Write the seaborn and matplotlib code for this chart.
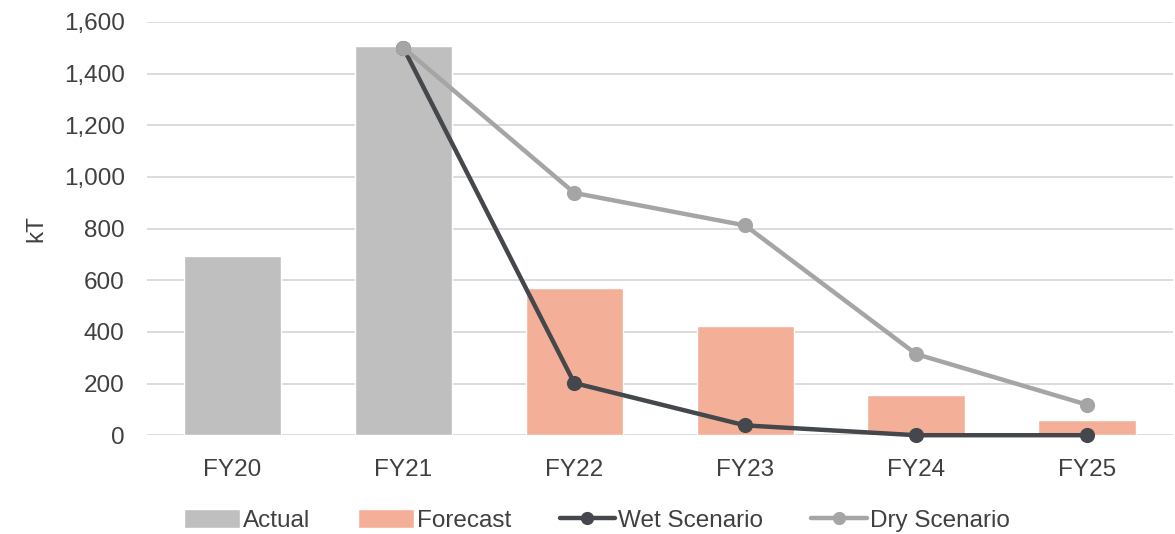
import matplotlib
matplotlib.use("Agg")
import matplotlib.pyplot as plt
import numpy as np
import pandas as pd
import seaborn as sns
from matplotlib.lines import Line2D
from matplotlib.patches import Patch

years = ["FY20", "FY21", "FY22", "FY23", "FY24", "FY25"]
bar_type = ["Actual", "Actual", "Forecast", "Forecast", "Forecast", "Forecast"]
bar_values = [692, 1505, 570, 423, 155, 58]
wet_values = [np.nan, 1500, 202, 38, 0, 0]
dry_values = [np.nan, 1500, 938, 812, 314, 118]

colors = {
    "Actual": "#BFBFBF",
    "Forecast": "#F4AF98",
    "Wet Scenario": "#44474B",
    "Dry Scenario": "#A5A5A5",
}
text_color = "#404040"

sns.set_theme(style="white")
plt.rcParams["font.family"] = ["Liberation Sans", "DejaVu Sans"]

df_bars = pd.DataFrame({"year": years, "type": bar_type, "value": bar_values})
df_wet = pd.DataFrame({"year": years, "value": wet_values})
df_dry = pd.DataFrame({"year": years, "value": dry_values})

fig = plt.figure(figsize=(11.75, 5.34), dpi=100)
ax = fig.add_axes([0.125, 0.185, 0.873, 0.774])

sns.barplot(
    data=df_bars, x="year", y="value", hue="type", order=years,
    palette=colors, dodge=False, width=0.57, saturation=1,
    legend=False, ax=ax, zorder=2,
)

for df_line, name in [(df_wet, "Wet Scenario"), (df_dry, "Dry Scenario")]:
    sns.pointplot(
        data=df_line, x="year", y="value", order=years,
        color=colors[name], markers="o", markersize=8.5,
        linewidth=3.2, errorbar=None, ax=ax,
    )

# keep lines on top and let the zero-level line show fully
for ln in ax.lines:
    ln.set_zorder(4)
    ln.set_clip_on(False)
ax.lines[-1].set_zorder(5)

ax.set_ylim(0, 1600)
ax.set_xlim(-0.5, 5.5)
ax.set_yticks(range(0, 1601, 200))
ax.yaxis.set_major_formatter(matplotlib.ticker.StrMethodFormatter("{x:,.0f}"))
ax.grid(axis="y", color="#D9D9D9", linewidth=1.3, zorder=0)
ax.set_axisbelow(True)
sns.despine(ax=ax, left=True, bottom=True)
ax.tick_params(axis="both", length=0, labelsize=17.5, colors=text_color)
ax.tick_params(axis="x", pad=17)
ax.tick_params(axis="y", pad=16)
ax.set_xlabel("")
ax.set_ylabel("kT", fontsize=17.5, color=text_color, labelpad=12)

handles = [
    Patch(facecolor=colors["Actual"], label="Actual"),
    Patch(facecolor=colors["Forecast"], label="Forecast"),
    Line2D([], [], color=colors["Wet Scenario"], lw=3.2, marker="o",
           markersize=8.5, label="Wet Scenario"),
    Line2D([], [], color=colors["Dry Scenario"], lw=3.2, marker="o",
           markersize=8.5, label="Dry Scenario"),
]
leg = fig.legend(
    handles=handles, loc="center", bbox_to_anchor=(0.508, 0.025), ncol=4,
    frameon=False, fontsize=17.5, handlelength=2.3, handleheight=0.8,
    handletextpad=0.1, columnspacing=2.0,
)
for t in leg.get_texts():
    t.set_color(text_color)

fig.savefig("out.png", dpi=100)
plt.close(fig)
